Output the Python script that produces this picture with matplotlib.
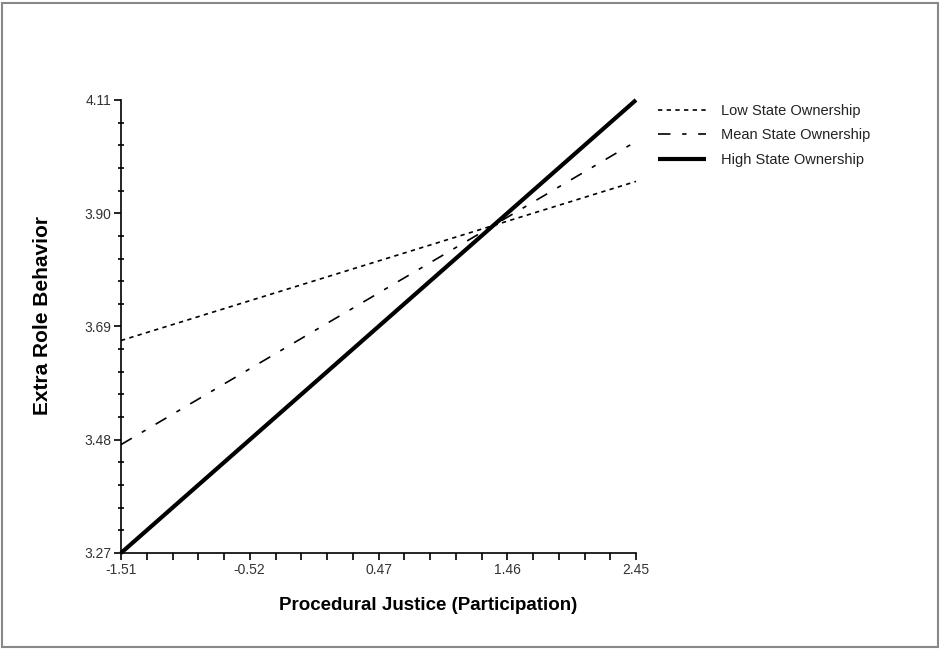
import numpy as np
import matplotlib
matplotlib.use("Agg")
import matplotlib.pyplot as plt
from matplotlib.patches import Rectangle
from matplotlib.ticker import MultipleLocator, AutoMinorLocator

# simple slopes data
x_ends = [-1.51, 2.45]
low_own = [3.664, 3.959]
mean_own = [3.471, 4.033]
high_own = [3.27, 4.11]

x_ticks = [-1.51, -0.52, 0.47, 1.46, 2.45]
y_ticks = [3.27, 3.48, 3.69, 3.90, 4.11]
series_names = ["Low State Ownership", "Mean State Ownership", "High State Ownership"]

plt.rcParams['font.family'] = ['Liberation Sans', 'DejaVu Sans']

fig = plt.figure(figsize=(9.41, 6.5), dpi=100)
ax = fig.add_axes([121/941, 1 - 553/650, (636 - 121)/941, (553 - 100)/650])

ax.plot(x_ends, low_own, color="black", lw=1.2, linestyle=(0, (2.6, 2.6)),
        label=series_names[0], clip_on=False)
ax.plot(x_ends, mean_own, color="black", lw=1.2, linestyle=(0, (7.5, 7.0, 2.6, 7.0)),
        label=series_names[1], clip_on=False)
ax.plot(x_ends, high_own, color="black", lw=3.0, solid_capstyle="butt",
        label=series_names[2], clip_on=False)

ax.set_xlim(x_ticks[0], x_ticks[-1])
ax.set_ylim(y_ticks[0], y_ticks[-1])
ax.set_xticks(x_ticks)
ax.set_yticks(y_ticks)
ax.set_xticklabels([f"{v:.2f}" for v in x_ticks])
ax.set_yticklabels([f"{v:.2f}" for v in y_ticks])
ax.xaxis.set_minor_locator(AutoMinorLocator(5))
ax.yaxis.set_minor_locator(AutoMinorLocator(5))

for s in ["top", "right"]:
    ax.spines[s].set_visible(False)
for s in ["left", "bottom"]:
    ax.spines[s].set_linewidth(1.2)

ax.tick_params(axis="both", which="major", direction="out", length=5, width=1.2,
               labelsize=10, colors="black", pad=2)
ax.tick_params(axis="x", which="minor", direction="out", length=5, width=1.2)
ax.tick_params(axis="y", which="minor", direction="inout", length=5, width=1.2)
ax.tick_params(axis="both", labelcolor="#333333")

leg = ax.legend(loc="upper left", bbox_to_anchor=(658/941, 1 - 104/650),
                bbox_transform=fig.transFigure, frameon=False, fontsize=10.5,
                handlelength=3.3, handletextpad=1.0, labelspacing=0.72,
                borderpad=0, borderaxespad=0)
for t in leg.get_texts():
    t.set_color("#222222")

fig.text(43/941, 1 - 315/650, "Extra Role Behavior", rotation=90,
         ha="center", va="center", fontsize=15, fontweight="bold")
fig.text(428/941, 1 - 606/650, "Procedural Justice (Participation)",
         ha="center", va="center", fontsize=13.5, fontweight="bold")

# grey frame round the whole picture
fig.patches.append(Rectangle((2/941, 3/650), 936/941, 644/650, transform=fig.transFigure,
                             fill=False, edgecolor="#888888", lw=1.5))

fig.savefig("out.png", dpi=100)
